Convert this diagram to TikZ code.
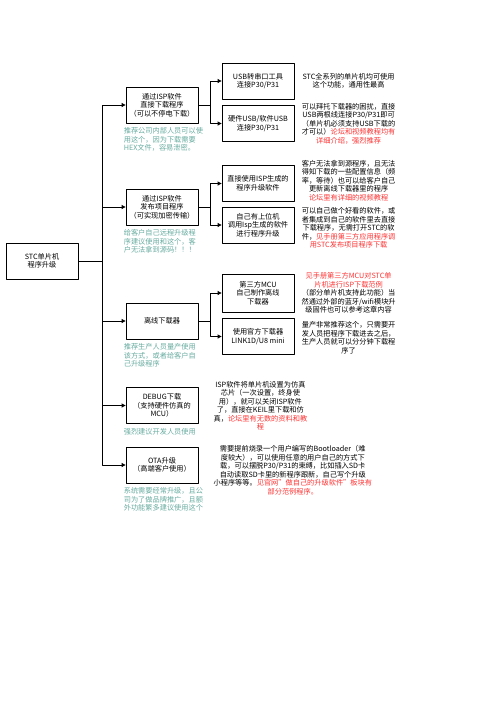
\documentclass[tikz,border=0pt]{standalone}
\usepackage{fontspec}
\setmainfont{Noto Sans CJK SC}
\usepackage{xcolor}
\usepackage{tikz}
\usetikzlibrary{arrows.meta,positioning}
\definecolor{notegreen}{HTML}{67AB9F}
\definecolor{hotred}{HTML}{FF3333}
\newcommand{\redtxt}[1]{\textcolor{hotred}{#1}}
\newcommand{\smallcn}{\fontsize{7.2}{8.5}\selectfont\lineskiplimit=-6pt\lineskip=0pt}
\tikzset{
    every picture/.style={line cap=round,line join=round},
    plainbox/.style={draw=black,fill=white,line width=0.8pt,
      minimum width=72pt,minimum height=36pt,inner sep=1pt,
      font=\smallcn,align=center},
    greennote/.style={text=notegreen,inner sep=0pt,font=\smallcn,align=left},
    desctext/.style={inner sep=0pt,font=\smallcn,align=center},
    linkarrow/.style={-{Triangle[length=4pt,width=4pt]},draw=black,
      line width=0.8pt}
}

\begin{document}
\begin{tikzpicture}[x=1pt,y=-1pt]
  \useasboundingbox (0,0) rectangle (497,702);
  % root and first level
  \node[plainbox] (root) at (42,261) {STC单片机\\程序升级};
  \node[plainbox] (ispdl) at (162,105) {通过ISP软件\\直接下载程序\\（可以不停电下载）};
  \node[plainbox] (isppub) at (162,207) {通过ISP软件\\发布项目程序\\（可实现加密传输）};
  \node[plainbox] (offline) at (162,321) {离线下载器};
  \node[plainbox] (debug) at (162,405.5) {DEBUG下载\\（支持硬件仿真的\\MCU）};
  \node[plainbox] (ota) at (162,465) {OTA升级\\（高端客户使用）};
  % second level
  \node[plainbox] (usbser) at (258,81) {USB转串口工具\\连接P30/P31};
  \node[plainbox] (usbhw) at (258,123.5) {硬件USB/软件USB\\连接P30/P31};
  \node[plainbox] (ispsw) at (258,183.5) {直接使用ISP生成的\\程序升级软件};
  \node[plainbox] (hostsw) at (258,225) {自己有上位机\\调用Isp生成的软件\\进行程序升级};
  \node[plainbox,minimum height=38pt] (thirdmcu) at (258,293) {第三方MCU\\自己制作离线\\下载器};
  \node[plainbox] (linkdl) at (258,336.5) {使用官方下载器\\LINK1D/U8 mini};
  % green notes under the first level
  \node[greennote,below=4pt of ispdl.south west,anchor=north west,xshift=-2pt] (n1)
    {推荐公司内部人员可以使\\用这个，因为下载需要\\HEX文件，容易泄密。};
  \node[greennote,below=4pt of isppub.south west,anchor=north west,xshift=-2pt] (n2)
    {给客户自己远程升级程\\序建议使用和这个，客\\户无法拿到源码！！！};
  \node[greennote,below=4pt of offline.south west,anchor=north west,xshift=-2pt] (n3)
    {推荐生产人员量产使用\\该方式，或者给客户自\\己升级程序};
  \node[greennote,below=4pt of debug.south west,anchor=north west,xshift=-2pt] (n4)
    {强烈建议开发人员使用};
  \node[greennote,below=4pt of ota.south west,anchor=north west,xshift=-2pt] (n5)
    {系统需要经常升级，且公\\司为了做品牌推广，且额\\外功能繁多建议使用这个};
  % descriptions
  \node[desctext,text width=100pt,right=4pt of usbser] (d1)
    {STC全系列的单片机均可使用\\这个功能，通用性最高};
  \node[desctext,text width=100pt,right=4pt of usbhw] (d2)
    {可以拜托下载器的困扰，直接\\USB两根线连接P30/P31即可\\（单片机必须支持USB下载的\\才可以）\redtxt{论坛和视频教程均有}\\\redtxt{详细介绍，强烈推荐}};
  \node[desctext,text width=100pt,right=4pt of ispsw,yshift=3pt] (d3)
    {客户无法拿到源程序，且无法\\得知下载的一些配置信息（频\\率，等待）也可以给客户自己\\更新离线下载器里的程序\\\redtxt{论坛里有详细的视频教程}};
  \node[desctext,text width=100pt,right=4pt of hostsw,yshift=-3pt] (d4)
    {可以自己做个好看的软件，或\\者集成到自己的软件里去直接\\下载程序，无需打开STC的软\\件，\redtxt{见手册第三方应用程序调}\\\redtxt{用STC发布项目程序下载}};
  \node[desctext,text width=100pt,right=4pt of thirdmcu] (d5)
    {\redtxt{见手册第三方MCU对STC单}\\\redtxt{片机进行ISP下载范例}\\（部分单片机支持此功能）当\\然通过外部的蓝牙/wifi模块升\\级固件也可以参考这章内容};
  \node[desctext,text width=100pt,right=4pt of linkdl,yshift=-1pt] (d6)
    {量产非常推荐这个，只需要开\\发人员把程序下载进去之后，\\生产人员就可以分分钟下载程\\序了};
  \node[desctext,right=15pt of debug] (d7)
    {ISP软件将单片机设置为仿真\\芯片（一次设置，终身使\\用），就可以关闭ISP软件\\了，直接在KEIL里下载和仿\\真，\redtxt{论坛里有无数的资料和教}\\\redtxt{程}};
  \node[desctext,right=15pt of ota.north east,anchor=north west,yshift=1pt] (d8)
    {需要提前烧录一个用户编写的Bootloader（难\\度较大），可以使用任意的用户自己的方式下\\载，可以摆脱P30/P31的束缚，比如插入SD卡\\自动读取SD卡里的新程序跟新，自己写个升级\\小程序等等。\redtxt{见官网"做自己的升级软件"板块有}\\\redtxt{部分范例程序。}};
  % connectors
  \foreach \k in {ispdl,isppub,offline,debug,ota}
    \draw[linkarrow] (root.east) -- ++(24,0) |- (\k.west);
  \draw[linkarrow] (ispdl.east) -- ++(12,0) |- (usbser.west);
  \draw[linkarrow] (ispdl.east) -- ++(12,0) |- (usbhw.west);
  \draw[linkarrow] (isppub.east) -- ++(12,0) |- (ispsw.west);
  \draw[linkarrow] (isppub.east) -- ++(12,0) |- (hostsw.west);
  \draw[linkarrow] (offline.east) -- ++(12,0) |- (thirdmcu.west);
  \draw[linkarrow] (offline.east) -- ++(12,0) |- (linkdl.west);
\end{tikzpicture}
\end{document}
